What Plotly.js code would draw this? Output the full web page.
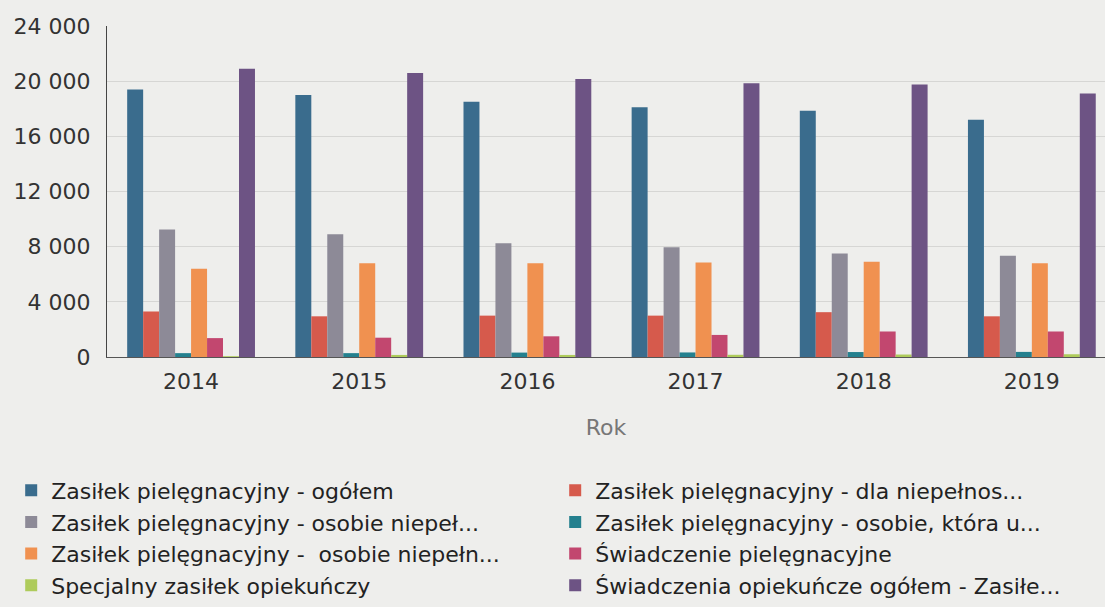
<!DOCTYPE html>
<html>
<head>
<meta charset="utf-8">
<script src="https://cdn.plot.ly/plotly-3.0.1.min.js"></script>
<style>
html,body{margin:0;padding:0;background:#eeeeec;}
#chart{width:1105px;height:607px;}
</style>
</head>
<body>
<div id="chart"></div>
<script>
const years = ['2014', '2015', '2016', '2017', '2018', '2019'];

const seriesNames = [
  'Zasiłek pielęgnacyjny - ogółem',
  'Zasiłek pielęgnacyjny - dla niepełnos...',
  'Zasiłek pielęgnacyjny - osobie niepeł...',
  'Zasiłek pielęgnacyjny - osobie, która u...',
  'Zasiłek pielęgnacyjny -  osobie niepełn...',
  'Świadczenie pielęgnacyjne',
  'Specjalny zasiłek opiekuńczy',
  'Świadczenia opiekuńcze ogółem - Zasiłe...'
];

const zpOgolem      = [19400, 19000, 18500, 18100, 17850, 17200];
const zpDlaNiepeln  = [3300, 2950, 3000, 3000, 3250, 2950];
const zpOsobieNiep1 = [9250, 8900, 8250, 7950, 7500, 7350];
const zpOsobieKtora = [280, 280, 320, 330, 360, 370];
const zpOsobieNiep2 = [6400, 6800, 6800, 6850, 6900, 6800];
const swiadczPiel   = [1370, 1400, 1500, 1600, 1850, 1850];
const specZasilek   = [60, 150, 150, 160, 180, 200];
const swiadczOgolem = [20900, 20600, 20150, 19850, 19750, 19100];

const seriesValues = [zpOgolem, zpDlaNiepeln, zpOsobieNiep1, zpOsobieKtora,
                      zpOsobieNiep2, swiadczPiel, specZasilek, swiadczOgolem];

const colors = ['#3a6c8d', '#d65a4c', '#8d8a97', '#24808e',
                '#f09150', '#c2476f', '#aecb5b', '#6d5384'];

const yTickVals = [0, 4000, 8000, 12000, 16000, 20000, 24000];
const yTickText = ['0', '4 000', '8 000', '12 000', '16 000', '20 000', '24 000'];

const font = 'DejaVu Sans, Open Sans, sans-serif';

const traces = seriesValues.map((vals, i) => ({
  type: 'bar',
  name: seriesNames[i],
  x: years,
  y: vals,
  marker: {color: colors[i], line: {width: 0}},
  hoverinfo: 'x+y+name'
}));

const layout = {
  width: 1105,
  height: 607,
  paper_bgcolor: '#eeeeec',
  plot_bgcolor: '#eeeeec',
  margin: {l: 107, r: 0, t: 26, b: 250, pad: 0},
  barmode: 'group',
  bargap: 0.24,
  bargroupgap: 0,
  font: {family: font, color: '#333', size: 22},
  xaxis: {
    type: 'category',
    range: [-0.5, 5.435],
    showgrid: false,
    showline: true,
    linecolor: '#555',
    linewidth: 1,
    ticks: 'outside',
    ticklen: 5,
    tickcolor: 'rgba(0,0,0,0)',
    tickfont: {family: font, size: 22, color: '#333'},
    title: {text: 'Rok', font: {family: font, size: 22, color: '#777'}, standoff: 26},
    automargin: false,
    fixedrange: true
  },
  yaxis: {
    range: [0, 24000],
    tickvals: yTickVals,
    ticktext: yTickText,
    showgrid: true,
    gridcolor: '#d6d6d4',
    gridwidth: 1,
    zeroline: false,
    showline: true,
    linecolor: '#444',
    linewidth: 1,
    ticks: 'outside',
    ticklen: 11,
    tickcolor: 'rgba(0,0,0,0)',
    tickfont: {family: font, size: 22, color: '#333'},
    automargin: false,
    fixedrange: true
  },
  showlegend: true,
  legend: {
    orientation: 'h',
    x: -0.096,
    xanchor: 'left',
    y: -0.34,
    yanchor: 'top',
    entrywidth: 499,
    entrywidthmode: 'pixels',
    traceorder: 'normal',
    font: {family: font, size: 22, color: '#222'},
    bgcolor: 'rgba(0,0,0,0)'
  }
};

Plotly.newPlot('chart', traces, layout, {displayModeBar: false, staticPlot: true});
</script>
</body>
</html>
